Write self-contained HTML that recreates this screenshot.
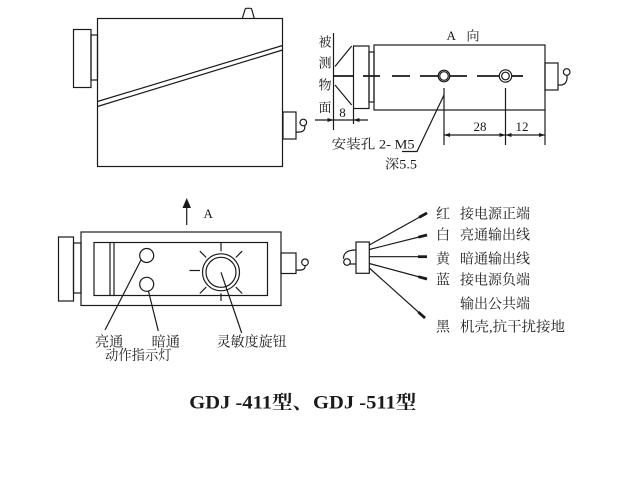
<!DOCTYPE html>
<html>
<head>
<meta charset="utf-8">
<style>
html,body{margin:0;padding:0;background:#fff;}
svg{display:block;}
text{font-family:"Liberation Serif","Noto Serif CJK SC",serif;fill:#1a1a1a;}
</style>
</head>
<body>
<svg width="640" height="480" viewBox="0 0 640 480" xmlns="http://www.w3.org/2000/svg">
<g fill="none" stroke="#1a1a1a" stroke-width="1.2">
  <!-- Top-left side view -->
  <rect x="97.5" y="18.5" width="185" height="148"/>
  <line x1="97.5" y1="101.5" x2="282.5" y2="45.5"/>
  <line x1="97.5" y1="106.5" x2="282.5" y2="50"/>
  <rect x="73.5" y="29.5" width="17.5" height="58"/>
  <rect x="91" y="35" width="6.5" height="45"/>
  <path d="M242.3,18.5 L245,9.5 Q245.3,8.3 246.5,8.3 L250.3,8.3 Q251.5,8.3 251.8,9.5 L254.3,18.5"/>
  <rect x="283" y="112" width="13" height="27"/>
  <circle cx="303.3" cy="122.5" r="3.3"/>
  <path d="M296,132 Q306,133 304.6,125.6"/>

  <!-- Top-right view A -->
  <line x1="333.5" y1="33" x2="333.5" y2="130"/>
  <line x1="335" y1="66.5" x2="351.7" y2="46"/>
  <line x1="335" y1="85" x2="351.7" y2="105"/>
  <rect x="353.5" y="46" width="15.5" height="62.5"/>
  <rect x="369" y="52" width="5" height="50"/>
  <rect x="374" y="45" width="171" height="65"/>
  <rect x="545" y="63" width="13" height="27"/>
  <circle cx="566.7" cy="72" r="3.3"/>
  <path d="M558,85 Q568,86 567,75.3"/>
  <!-- dashed axis -->
  <g stroke-width="1.8">
    <line x1="333" y1="76" x2="353" y2="76"/>
    <line x1="363" y1="76" x2="380" y2="76"/>
    <line x1="392" y1="76" x2="410" y2="76"/>
    <line x1="420" y1="76" x2="438" y2="76"/>
    <line x1="450" y1="76" x2="467" y2="76"/>
    <line x1="477" y1="76" x2="499" y2="76"/>
    <line x1="512" y1="76" x2="523" y2="76"/>
  </g>
  <circle cx="444" cy="76" r="5.8"/>
  <circle cx="444" cy="76" r="4.3"/>
  <circle cx="505.5" cy="76" r="6.2"/>
  <circle cx="505.5" cy="76" r="3.8"/>
  <!-- dimensions -->
  <line x1="444" y1="88" x2="444" y2="145"/>
  <line x1="505.5" y1="88" x2="505.5" y2="145"/>
  <line x1="545" y1="110" x2="545" y2="145"/>
  <line x1="444" y1="135" x2="545" y2="135"/>
  <line x1="315" y1="120" x2="368" y2="120"/>
  <line x1="353.5" y1="108" x2="353.5" y2="124"/>
  <path d="M444,95 L417,151.5 L402,151.5"/>

  <!-- Bottom-left top view -->
  <line x1="186.7" y1="225" x2="186.7" y2="206"/>
  <rect x="81" y="232" width="200" height="73.5"/>
  <rect x="94" y="242.5" width="173.5" height="53"/>
  <line x1="110" y1="242.5" x2="110" y2="295.5"/>
  <line x1="114" y1="242.5" x2="114" y2="295.5"/>
  <rect x="58.5" y="237" width="15" height="64"/>
  <rect x="73.5" y="243" width="7.5" height="50"/>
  <circle cx="146.7" cy="255.5" r="7"/>
  <circle cx="146.7" cy="284.3" r="7"/>
  <circle cx="221" cy="272.3" r="18.5"/>
  <circle cx="221" cy="272.3" r="15"/>
  <line x1="221" y1="251.3" x2="221" y2="243"/>
  <line x1="221" y1="293.3" x2="221" y2="301"/>
  <line x1="200" y1="270.5" x2="189.5" y2="270.5"/>
  <line x1="206.2" y1="257.5" x2="199.8" y2="251.1"/>
  <line x1="235.8" y1="257.5" x2="242.2" y2="251.1"/>
  <line x1="206.2" y1="287.1" x2="199.8" y2="293.5"/>
  <line x1="235.8" y1="287.1" x2="242.2" y2="293.5"/>
  <rect x="281" y="253" width="15" height="20.5"/>
  <circle cx="305" cy="262.3" r="3.3"/>
  <path d="M296,270 Q306,271 305,265.6"/>
  <line x1="141" y1="260" x2="105" y2="330"/>
  <line x1="148.3" y1="290.5" x2="158.3" y2="331"/>
  <line x1="221" y1="272.3" x2="241.7" y2="333"/>

  <!-- Wiring -->
  <rect x="356" y="242" width="13.3" height="31.3"/>
  <path d="M356,250 Q343,250 343.6,258.8"/>
  <circle cx="347" cy="262" r="3.3"/>
  <line x1="350" y1="264" x2="356" y2="264"/>
  <line x1="369.3" y1="245" x2="427" y2="213"/>
  <line x1="369.3" y1="249.5" x2="427" y2="235"/>
  <line x1="369.3" y1="256.7" x2="427" y2="256.7"/>
  <line x1="369.3" y1="263.5" x2="427" y2="279"/>
  <line x1="369.3" y1="268" x2="425" y2="318"/>
  <g stroke-width="2.8">
    <line x1="419.1" y1="217.4" x2="427" y2="213"/>
    <line x1="418.3" y1="237.2" x2="427" y2="235"/>
    <line x1="418" y1="256.7" x2="427" y2="256.7"/>
    <line x1="418.3" y1="276.7" x2="427" y2="279"/>
    <line x1="418.3" y1="312" x2="425" y2="318"/>
  </g>
</g>

<!-- arrowheads -->
<g fill="#1a1a1a" stroke="none">
  <polygon points="444,135 450,133 450,137"/>
  <polygon points="505.5,135 499.5,133 499.5,137"/>
  <polygon points="505.5,135 511.5,133 511.5,137"/>
  <polygon points="545,135 539,133 539,137"/>
  <polygon points="333.5,120 327.5,118 327.5,122"/>
  <polygon points="353.5,120 359.5,118 359.5,122"/>
  <polygon points="186.7,198 182.5,208 191,208"/>
</g>

<!-- Text: top-right -->
<g font-size="13">
  <text x="318.5" y="46.5">被</text>
  <text x="318.5" y="67.3">测</text>
  <text x="318.5" y="89.5">物</text>
  <text x="318.5" y="111.8">面</text>
  <text x="446.5" y="40">A</text>
  <text x="466.5" y="40.5">向</text>
  <text x="342.5" y="117" text-anchor="middle">8</text>
  <text x="480" y="131" text-anchor="middle">28</text>
  <text x="522" y="131" text-anchor="middle">12</text>
  <text x="331.7" y="148.5" textLength="83" lengthAdjust="spacingAndGlyphs">安装孔 2- M5</text>
  <text x="385" y="168.5" textLength="32" lengthAdjust="spacingAndGlyphs">深5.5</text>
  <text x="203.5" y="218">A</text>
</g>

<!-- Text: bottom-left labels -->
<g font-size="14">
  <text x="95" y="346.5" textLength="28.3" lengthAdjust="spacingAndGlyphs">亮通</text>
  <text x="151.7" y="346.5" textLength="28.3" lengthAdjust="spacingAndGlyphs">暗通</text>
  <text x="105" y="359.8" textLength="66.7" lengthAdjust="spacingAndGlyphs">动作指示灯</text>
  <text x="216.7" y="346.5" textLength="70" lengthAdjust="spacingAndGlyphs">灵敏度旋钮</text>
</g>

<!-- Text: wiring labels -->
<g font-size="14">
  <text x="436" y="218.6">红</text>
  <text x="436" y="239.3">白</text>
  <text x="436" y="263.6">黄</text>
  <text x="436" y="284.6">蓝</text>
  <text x="436" y="331.3">黑</text>
  <text x="460" y="218.6" textLength="70" lengthAdjust="spacingAndGlyphs">接电源正端</text>
  <text x="460" y="239.3" textLength="70" lengthAdjust="spacingAndGlyphs">亮通输出线</text>
  <text x="460" y="263.6" textLength="70" lengthAdjust="spacingAndGlyphs">暗通输出线</text>
  <text x="460" y="284.6" textLength="70" lengthAdjust="spacingAndGlyphs">接电源负端</text>
  <text x="460" y="308.6" textLength="70" lengthAdjust="spacingAndGlyphs">输出公共端</text>
  <text x="460" y="331.3" textLength="105" lengthAdjust="spacingAndGlyphs">机壳,抗干扰接地</text>
</g>

<!-- Title -->
<text x="189.3" y="408.3" font-size="19" font-weight="bold" textLength="227" lengthAdjust="spacingAndGlyphs">GDJ -411型、GDJ -511型</text>
</svg>
</body>
</html>
